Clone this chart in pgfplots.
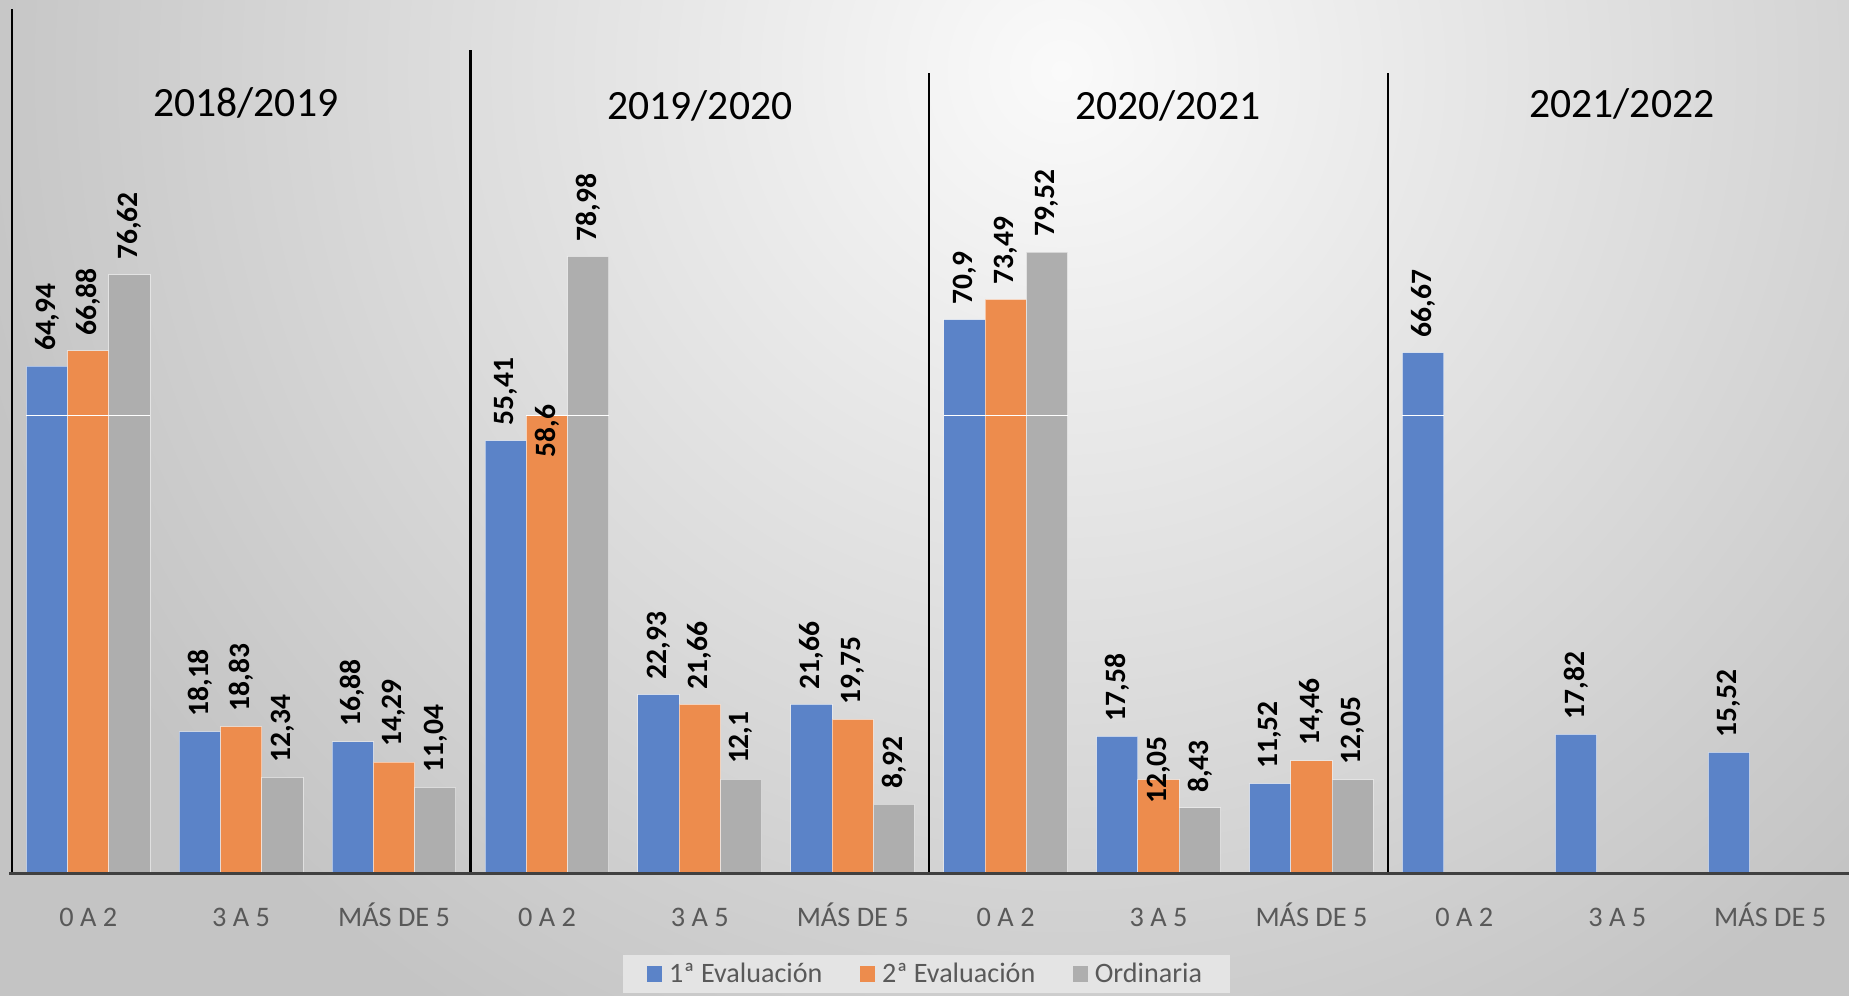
\documentclass[border=0pt]{standalone}
\usepackage{fontspec}
\setmainfont{Carlito}
\usepackage{pgfplots}
\pgfplotsset{compat=1.18}

\definecolor{serA}{RGB}{91,131,200}
\definecolor{serB}{RGB}{237,140,77}
\definecolor{serC}{RGB}{174,174,174}
\definecolor{tickcol}{RGB}{89,89,89}
\definecolor{basecol}{RGB}{64,64,64}
\definecolor{bgin}{RGB}{250,250,250}
\definecolor{bgout}{RGB}{196,196,196}
\definecolor{legbg}{RGB}{228,228,228}

\begin{document}
\begin{tikzpicture}
% background
\begin{scope}
  \clip (-6pt,-61.8pt) rectangle (934.8pt,444.6pt);
  \shade[inner color=bgin, outer color=bgout] (-36pt,-161.4pt) rectangle (1104pt,978.6pt);
\end{scope}

\begin{axis}[
  at={(0,0)}, anchor=south west,
  width=933.6pt, height=441.5pt, scale only axis,
  xmin=-0.5, xmax=11.5, ymin=0, ymax=111,
  clip=false,
  axis line style={draw=none},
  ybar=0pt, bar width=0.27,
  xtick={0,...,11},
  xticklabels={0 A 2, 3 A 5, MÁS DE 5, 0 A 2, 3 A 5, MÁS DE 5,
               0 A 2, 3 A 5, MÁS DE 5, 0 A 2, 3 A 5, MÁS DE 5},
  ytick=\empty,
  major tick length=0pt,
  xticklabel style={anchor=base, yshift=-27pt,
                    font=\fontsize{14.4}{17}\selectfont, text=tickcol},
  /pgf/number format/.cd, use comma, 1000 sep={}, assume math mode=true,
  /pgfplots/.cd,
  nodes near coords,
  nodes near coords style={font=\bfseries\fontsize{15}{18}\selectfont,
                           text=black, rotate=90, anchor=west,
                           inner sep=0pt, xshift=7.5pt},
  legend columns=3,
  legend style={at={(0.4985,-0.1157)}, anchor=center, draw=none,
                fill=legbg, font=\fontsize{14.3}{16}\selectfont, text=tickcol,
                inner xsep=12pt,
                /tikz/every odd column/.append style={column sep=1.5pt},
                /tikz/every even column/.append style={column sep=17pt}},
  legend image code/.code={\fill[#1, draw=none] (0pt,-4.2pt) rectangle (7.8pt,4.2pt);},
]

\addplot[fill=serA, draw=white, draw opacity=0.5, line width=0.5pt] table {
x y
0 64.94
1 18.18
2 16.88
3 55.41
4 22.93
5 21.66
6 70.9
7 17.58
8 11.52
9 66.67
10 17.82
11 15.52
};

\addplot[fill=serB, draw=white, draw opacity=0.5, line width=0.5pt,
  visualization depends on={\thisrow{off}\as\myoff},
  nodes near coords style={xshift=\myoff pt}] table {
x y off
0 66.88 0
1 18.83 0
2 14.29 0
3 58.6 -29
4 21.66 0
5 19.75 0
6 73.49 0
7 12.05 -20
8 14.46 0
};

\addplot[fill=serC, draw=white, draw opacity=0.5, line width=0.5pt] table {
x y
0 76.62
1 12.34
2 11.04
3 78.98
4 12.1
5 8.92
6 79.52
7 8.43
8 12.05
};

\legend{1ª Evaluación, 2ª Evaluación, Ordinaria}

% thin white line across the tall bars
\draw[white, line width=0.6pt] (axis cs:-0.405,58.6) -- (axis cs:0.405,58.6);
\draw[white, line width=0.6pt] (axis cs:2.865,58.6) -- (axis cs:3.405,58.6);
\draw[white, line width=0.6pt] (axis cs:5.595,58.6) -- (axis cs:6.405,58.6);
\draw[white, line width=0.6pt] (axis cs:8.595,58.6) -- (axis cs:8.865,58.6);

% separators
\draw[black, line width=1.1pt] (axis cs:-0.5,0) -- (axis cs:-0.5,110.6);
\draw[black, line width=1.1pt] (axis cs:2.5,0) -- (axis cs:2.5,105.4);
\draw[black, line width=1.1pt] (axis cs:5.5,0) -- (axis cs:5.5,102.4);
\draw[black, line width=1.1pt] (axis cs:8.5,0) -- (axis cs:8.5,102.4);

% baseline
\draw[basecol, line width=1.7pt] (axis cs:-0.515,0) -- (axis cs:11.515,0);

% year titles
\node[font=\fontsize{21.2}{25}\selectfont] at (axis cs:1.03,98.6) {2018/2019};
\node[font=\fontsize{21.2}{25}\selectfont] at (axis cs:4.0,98.2) {2019/2020};
\node[font=\fontsize{21.2}{25}\selectfont] at (axis cs:7.06,98.2) {2020/2021};
\node[font=\fontsize{21.2}{25}\selectfont] at (axis cs:10.03,98.5) {2021/2022};
\end{axis}

\pgfresetboundingbox
\path (-6pt,-61.8pt) rectangle (934.8pt,444.6pt);
\end{tikzpicture}
\end{document}
